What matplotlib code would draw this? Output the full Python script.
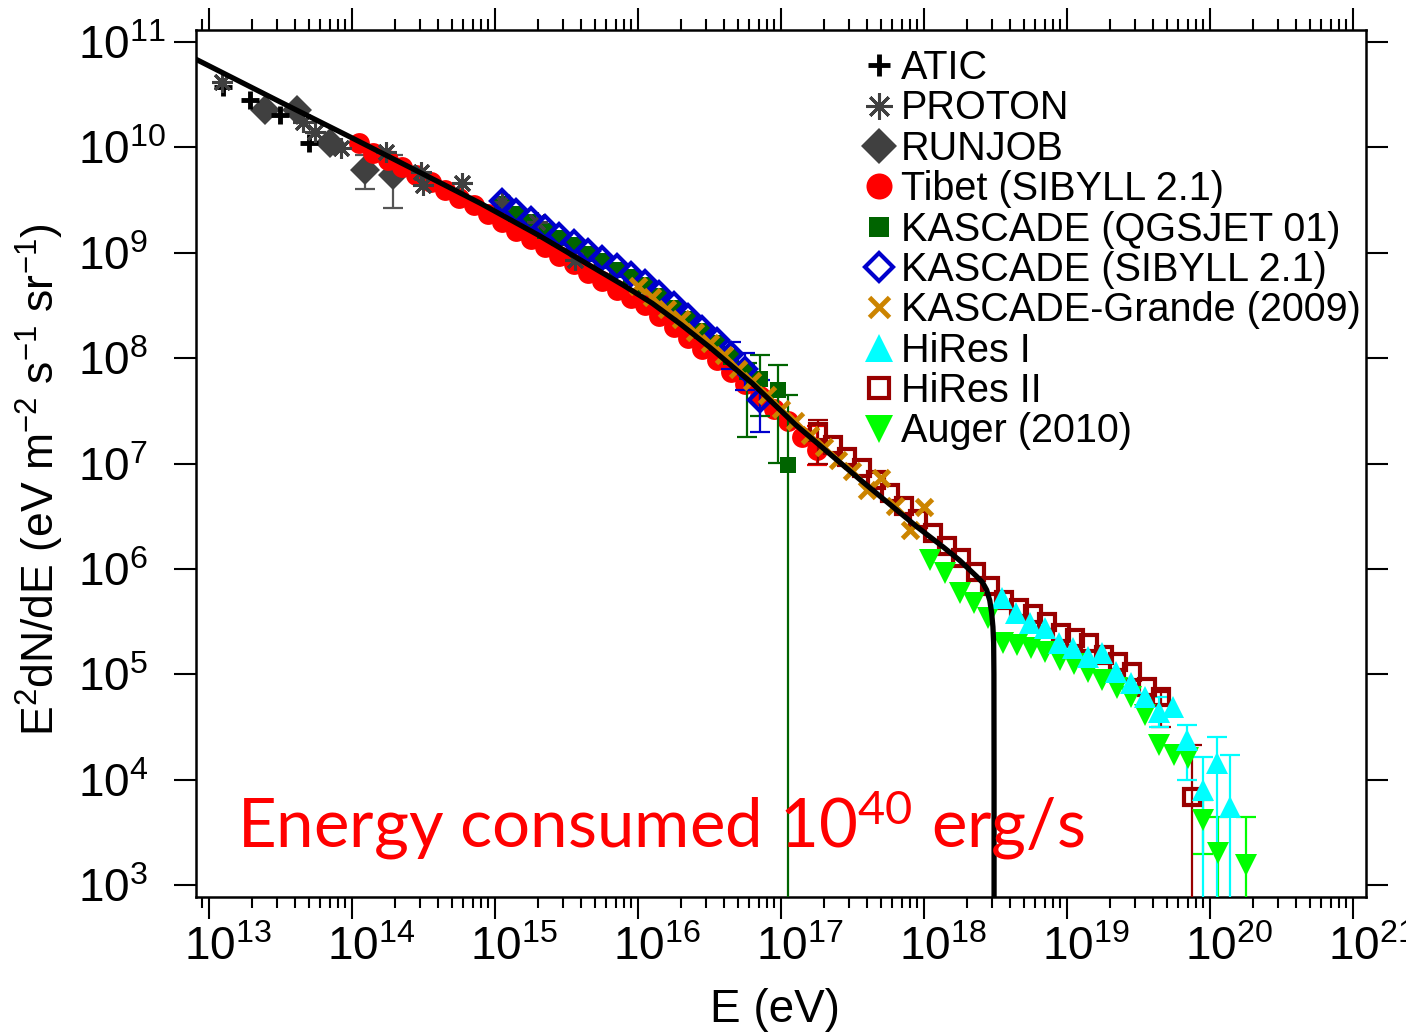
import numpy as np
import matplotlib
matplotlib.use("Agg")
import matplotlib.pyplot as plt
from matplotlib.lines import Line2D
from matplotlib.ticker import LogLocator, NullLocator, NullFormatter
from matplotlib.transforms import ScaledTranslation

plt.rcParams['font.family'] = ['Liberation Sans', 'DejaVu Sans']

# ---------------- data (log10 E [eV], log10 E^2 dN/dE) ----------------
model_logE = [12.88, 13.5, 14.0, 14.5, 14.9, 15.3, 15.6, 15.9, 16.1, 16.3, 16.5,
              16.8, 17.1, 17.55, 17.95, 18.133, 18.25, 18.369, 18.41, 18.438,
              18.46, 18.473, 18.482, 18.487, 18.489, 18.49, 18.49]
model_logF = [10.856, 10.43, 10.09, 9.745, 9.468, 9.17, 8.93, 8.69, 8.52, 8.32, 8.105,
              7.76, 7.37, 6.85, 6.40, 6.209, 6.08, 5.927, 5.87, 5.80,
              5.70, 5.583, 5.45, 5.30, 5.0, 4.0, 2.5]

atic_logE = [13.098, 13.287, 13.497, 13.699]
atic_logF = [10.573, 10.450, 10.307, 10.042]

proton_logE = [13.091, 13.657, 13.741, 13.923, 14.238, 14.483, 14.497, 14.769, 15.049, 15.294, 15.559]
proton_logF = [10.620, 10.241, 10.146, 9.994, 9.956, 9.767, 9.643, 9.662, 9.482, 9.292, 8.932]

runjob_logE = [13.392, 13.615, 13.846, 14.091, 14.287]
runjob_logF = [10.355, 10.355, 10.042, 9.786, 9.738]
runjob_err_logE = [14.091, 14.287]
runjob_err_lo = [9.605, 9.425]
runjob_err_hi = [9.928, 9.928]

tibet_logE = [14.05, 14.15, 14.25, 14.35, 14.45, 14.55, 14.65, 14.75, 14.85, 14.95,
              15.05, 15.15, 15.25, 15.35, 15.45, 15.55, 15.65, 15.75, 15.85, 15.95,
              16.05, 16.15, 16.25, 16.35, 16.45, 16.55, 16.65, 16.75, 16.85, 16.95,
              17.05, 17.15, 17.25]
tibet_logF = [10.04, 9.95, 9.88, 9.81, 9.74, 9.67, 9.60, 9.52, 9.45, 9.37,
              9.29, 9.21, 9.13, 9.05, 8.97, 8.89, 8.81, 8.73, 8.65, 8.57,
              8.50, 8.40, 8.30, 8.19, 8.09, 7.98, 7.87, 7.75, 7.64, 7.52,
              7.40, 7.25, 7.13]
tibet_err_logE = [17.25]
tibet_err_lo = [6.99]
tibet_err_hi = [7.36]

kq_logE = [15.05, 15.15, 15.25, 15.35, 15.45, 15.55, 15.65, 15.75, 15.85, 15.95,
           16.05, 16.15, 16.25, 16.35, 16.45, 16.55, 16.65, 16.76, 16.85, 16.98, 17.05]
kq_logF = [9.46, 9.37, 9.29, 9.21, 9.14, 9.07, 8.99, 8.92, 8.84, 8.77,
           8.69, 8.59, 8.48, 8.37, 8.26, 8.14, 8.01, 7.87, 7.80, 7.70, 6.99]
kq_err_logE = [16.76, 16.85, 16.98, 17.05]
kq_err_lo = [7.255, 7.45, 7.006, 2.5]
kq_err_hi = [7.95, 8.03, 7.935, 7.651]

ks_logE = [15.05, 15.15, 15.25, 15.35, 15.45, 15.55, 15.65, 15.75, 15.85, 15.95,
           16.05, 16.15, 16.25, 16.35, 16.45, 16.55, 16.65, 16.75, 16.85]
ks_logF = [9.49, 9.40, 9.32, 9.24, 9.17, 9.10, 9.02, 8.95, 8.87, 8.80,
           8.72, 8.62, 8.51, 8.40, 8.29, 8.17, 8.04, 7.90, 7.60]
ks_err_logE = [16.65, 16.75, 16.85]
ks_err_lo = [7.90, 7.70, 7.30]
ks_err_hi = [8.15, 8.05, 7.79]

kg_logE = [16.0, 16.1, 16.2, 16.3, 16.4, 16.5, 16.6, 16.7, 16.8, 16.9,
           17.0, 17.1, 17.2, 17.3, 17.4, 17.5, 17.6, 17.7, 17.8, 17.9, 18.0]
kg_logF = [8.68, 8.58, 8.47, 8.37, 8.25, 8.14, 8.03, 7.90, 7.78, 7.65,
           7.52, 7.40, 7.27, 7.16, 7.03, 6.93, 6.75, 6.86, 6.60, 6.37, 6.59]

hires1_logE = [18.545, 18.643, 18.741, 18.846, 18.944, 19.042, 19.147, 19.245, 19.343,
               19.448, 19.545, 19.644, 19.741, 19.839, 19.951, 20.049, 20.140]
hires1_logF = [5.725, 5.583, 5.488, 5.440, 5.298, 5.250, 5.165, 5.203, 5.023,
               4.918, 4.786, 4.643, 4.691, 4.378, 3.903, 4.159, 3.742]
hires1_err_logE = [19.644, 19.839, 19.951, 20.049, 20.140]
hires1_err_lo = [4.50, 4.00, 2.5, 2.5, 2.5]
hires1_err_hi = [4.78, 4.52, 4.216, 4.406, 4.235]

hires2_logE = [17.259, 17.364, 17.462, 17.567, 17.664, 17.762, 17.860, 17.958, 18.063,
               18.161, 18.259, 18.364, 18.462, 18.559, 18.664, 18.762, 18.860, 18.958,
               19.056, 19.154, 19.259, 19.357, 19.455, 19.559, 19.657, 19.875]
hires2_logF = [7.300, 7.177, 7.063, 6.958, 6.845, 6.721, 6.598, 6.474, 6.341,
               6.218, 6.104, 5.972, 5.839, 5.706, 5.630, 5.573, 5.497, 5.393,
               5.346, 5.298, 5.184, 5.118, 5.023, 4.880, 4.786, 3.837]
hires2_err_logE = [17.259, 19.657, 19.875]
hires2_err_lo = [7.00, 4.50, 2.5]
hires2_err_hi = [7.41, 4.83, 4.33]

auger_logE = [18.042, 18.147, 18.252, 18.350, 18.448, 18.552, 18.650, 18.748, 18.846,
              18.951, 19.049, 19.147, 19.245, 19.350, 19.448, 19.545, 19.643, 19.748,
              19.846, 19.951, 20.056, 20.252]
auger_logF = [6.085, 5.962, 5.772, 5.677, 5.535, 5.298, 5.279, 5.250, 5.213,
              5.137, 5.099, 5.023, 4.947, 4.871, 4.786, 4.615, 4.330, 4.235,
              4.207, 3.619, 3.306, 3.192]
auger_err_logE = [19.951, 20.056, 20.252]
auger_err_lo = [3.29, 2.5, 2.5]
auger_err_hi = [3.81, 3.647, 3.647]

legend_labels = ["ATIC", "PROTON", "RUNJOB", "Tibet (SIBYLL 2.1)", "KASCADE (QGSJET 01)",
                 "KASCADE (SIBYLL 2.1)", "KASCADE-Grande (2009)", "HiRes I", "HiRes II",
                 "Auger (2010)"]
x_decades = [13, 14, 15, 16, 17, 18, 19, 20, 21]

# ---------------- styles ----------------
C_RUN = '#404040'
C_KQ = '#006400'
C_KS = '#0000CC'
C_KG = '#CC8400'
C_H1 = '#00FFFF'
C_H2 = '#990000'
C_AU = '#00FF00'

st = {
    'ATIC': dict(marker='+', ms=13, mew=3.5, color='black', ls='none'),
    'PROTON': dict(marker=(8, 2, 0), ms=15, mew=2.2, color=C_RUN, ls='none'),
    'RUNJOB': dict(marker='D', ms=15, mew=0, color=C_RUN, ls='none'),
    'Tibet': dict(marker='o', ms=15, mew=0, color='#FF0000', ls='none'),
    'KQ': dict(marker='s', ms=12, mew=0, color=C_KQ, ls='none'),
    'KS': dict(marker='D', ms=11, mew=3, mfc='none', mec=C_KS, ls='none'),
    'KG': dict(marker='x', ms=11, mew=3.5, color=C_KG, ls='none'),
    'H1': dict(marker='^', ms=16, mew=0, color=C_H1, ls='none'),
    'H2': dict(marker='s', ms=12, mew=3, mfc='none', mec=C_H2, ls='none'),
    'AU': dict(marker='v', ms=16, mew=0, color=C_AU, ls='none'),
}

def P(a):
    return 10.0 ** np.asarray(a, dtype=float)

fig = plt.figure(figsize=(14.06, 10.35), dpi=100)
L, R, T, B = 196, 1366, 30, 897
ax = fig.add_axes([L / 1406, 1 - B / 1035, (R - L) / 1406, (B - T) / 1035])
ax.set_xscale('log')
ax.set_yscale('log')
ax.set_xlim(10 ** 12.909, 10 ** 21.091)
ax.set_ylim(10 ** 2.886, 10 ** 11.114)

def ebar(xs, lo, hi, color, z):
    lo = np.asarray(lo); hi = np.asarray(hi)
    ax.errorbar(P(xs), P(lo), yerr=[np.zeros(len(lo)), P(hi) - P(lo)], fmt='none',
                ecolor=color, elinewidth=1.6, capsize=7, capthick=1.6, zorder=z)

# draw order
ebar(runjob_err_logE, runjob_err_lo, runjob_err_hi, '#555555', 2)
ax.plot(P(atic_logE), P(atic_logF), zorder=4, **st['ATIC'])
ax.plot(P(runjob_logE), P(runjob_logF), zorder=3, **st['RUNJOB'])
ax.plot(P(proton_logE), P(proton_logF), zorder=5, **st['PROTON'])
ebar(tibet_err_logE, tibet_err_lo, tibet_err_hi, '#FF0000', 2)
ax.plot(P(tibet_logE), P(tibet_logF), zorder=3, **st['Tibet'])
ebar(kq_err_logE, kq_err_lo, kq_err_hi, C_KQ, 3)
ax.plot(P(kq_logE), P(kq_logF), zorder=4, **st['KQ'])
ebar(ks_err_logE, ks_err_lo, ks_err_hi, C_KS, 3)
ax.plot(P(ks_logE), P(ks_logF), zorder=5, **st['KS'])
ax.plot(P(kg_logE), P(kg_logF), zorder=6, **st['KG'])
ebar(hires2_err_logE, hires2_err_lo, hires2_err_hi, C_H2, 3)
ax.plot(P(hires2_logE), P(hires2_logF), zorder=4, **st['H2'])
ebar(auger_err_logE, auger_err_lo, auger_err_hi, C_AU, 3)
ax.plot(P(auger_logE), P(auger_logF), zorder=5, **st['AU'])
ebar(hires1_err_logE, hires1_err_lo, hires1_err_hi, C_H1, 3)
ax.plot(P(hires1_logE), P(hires1_logF), zorder=5, **st['H1'])

ax.plot(P(model_logE), P(model_logF), color='black', lw=3.8, zorder=8,
        solid_joinstyle='round', solid_capstyle='butt')

# ---------------- axes styling ----------------
for s in ax.spines.values():
    s.set_linewidth(1.8)
ax.xaxis.set_major_locator(LogLocator(base=10, numticks=30))
ax.xaxis.set_minor_locator(LogLocator(base=10, subs=np.arange(2, 10), numticks=200))
ax.xaxis.set_minor_formatter(NullFormatter())
ax.yaxis.set_major_locator(LogLocator(base=10, numticks=30))
ax.yaxis.set_minor_locator(NullLocator())
ax.tick_params(which='both', direction='out', top=True, right=True,
               labeltop=False, labelright=False, width=1.5)
ax.tick_params(which='major', length=16)
ax.tick_params(which='minor', length=8)
ax.tick_params(axis='x', which='major', labelsize=33, pad=5)
ax.tick_params(axis='y', which='major', labelsize=33, pad=69)
ax.set_xticks(P(x_decades))
ax.set_xticklabels([r'$\mathdefault{10^{%d}}$' % d for d in x_decades])
for lab in ax.get_yticklabels():
    lab.set_horizontalalignment('left')
for lab in ax.get_xticklabels():
    lab.set_horizontalalignment('left')
    lab.set_transform(lab.get_transform() + ScaledTranslation(-0.556 * 33 / 72.0, 0, fig.dpi_scale_trans))

fig.text(775 / 1406, 1 - 1010 / 1035, 'E (eV)', fontsize=33, ha='center', va='center')
fig.text(40 / 1406, 1 - 480 / 1035,
         r'E$\mathdefault{^2}$dN/dE (eV m$\mathdefault{^{-2}}$ s$\mathdefault{^{-1}}$ sr$\mathdefault{^{-1}}$)',
         fontsize=32, rotation=90, ha='center', va='center')

# ---------------- legend ----------------
keys = ['ATIC', 'PROTON', 'RUNJOB', 'Tibet', 'KQ', 'KS', 'KG', 'H1', 'H2', 'AU']
handles = []
for k in keys:
    d = dict(st[k])
    d['ms'] = d['ms'] * 1.25
    handles.append(Line2D([], [], **d))
ax.legend(handles, legend_labels, loc='upper left', bbox_to_anchor=(0.5735, 0.978),
          frameon=False, borderpad=0, borderaxespad=0, handlelength=0.6,
          handletextpad=0.25, labelspacing=0.06, fontsize=28.5)

# ---------------- annotation ----------------
ax.text((237 - L) / (R - L), (B - 848) / (B - T),
        r'Energy consumed 10$\mathdefault{^{40}}$ erg/s', color='#FF0000',
        family=['Lato', 'DejaVu Sans'], fontsize=48.3, ha='left', va='baseline',
        transform=ax.transAxes, zorder=10)

fig.savefig('out.png', dpi=100)
